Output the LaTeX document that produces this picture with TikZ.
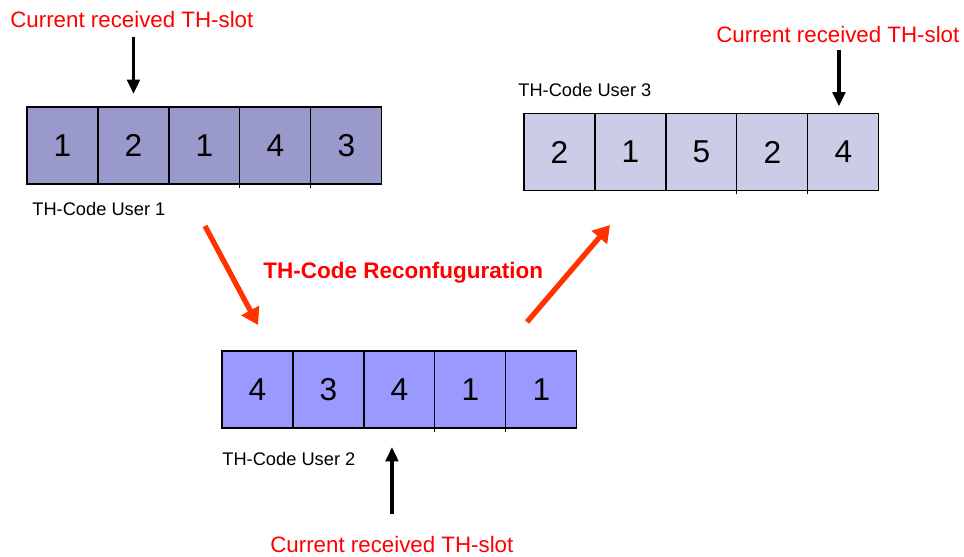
\documentclass[tikz,border=0pt]{standalone}
\usepackage{fontspec}
\setmainfont{Liberation Sans}
\usetikzlibrary{positioning,arrows.meta}
\definecolor{slotone}{HTML}{9999CC}
\definecolor{slottwo}{HTML}{9999FF}
\definecolor{slotthree}{HTML}{CCCCE6}
\definecolor{labelred}{HTML}{FF0000}
\definecolor{reconfred}{HTML}{FF3300}
\begin{document}
\begin{tikzpicture}[x=0.02cm,y=-0.02cm,
    slot/.style={draw,line width=0.6pt,minimum width=1.42cm,minimum height=1.54cm,
        inner sep=0pt,outer sep=0pt,font=\fontsize{18}{18}\selectfont},
    slotlabel/.style={anchor=base west,inner sep=0pt,text=labelred,font=\fontsize{12.7}{13}\selectfont},
    codename/.style={anchor=base west,inner sep=0pt,font=\fontsize{10.4}{11}\selectfont},
    ptr/.style={-{Triangle[length=2.9mm,width=2.5mm]},line width=2.2pt},
    reconfarrow/.style={-{Triangle[length=3.3mm,width=3.9mm]},line width=3pt,draw=reconfred}]
                \useasboundingbox (0,0) rectangle (964,557);
                \node[slot,fill=slotone] (a1) at (62.5,145.5) {1};
                \node[slot,fill=slotone,right=0pt of a1] (a2) {2};
                \node[slot,fill=slotone,right=0pt of a2] (a3) {1};
                \node[slot,fill=slotone,right=0pt of a3] (a4) {4};
                \node[slot,fill=slotone,right=0pt of a4] (a5) {3};
                \node[slot,fill=slottwo] (b1) at (257.5,389.5) {4};
                \node[slot,fill=slottwo,right=0pt of b1] (b2) {3};
                \node[slot,fill=slottwo,right=0pt of b2] (b3) {4};
                \node[slot,fill=slottwo,right=0pt of b3] (b4) {1};
                \node[slot,fill=slottwo,right=0pt of b4] (b5) {1};
                \node[slot,fill=slotthree] (c1) at (559.5,152) {2};
                \node[slot,fill=slotthree,right=0pt of c1] (c2) {1};
                \node[slot,fill=slotthree,right=0pt of c2] (c3) {5};
                \node[slot,fill=slotthree,right=0pt of c3] (c4) {2};
                \node[slot,fill=slotthree,right=0pt of c4] (c5) {4};
                \draw[line width=0.6pt] (a3.south east) -- ++(0,4);
                \draw[line width=0.6pt] (a4.south east) -- ++(0,4);
                \draw[line width=0.6pt] (b3.south east) -- ++(0,4);
                \draw[line width=0.6pt] (b4.south east) -- ++(0,4);
                \draw[line width=0.6pt] (c3.south east) -- ++(0,4);
                \draw[line width=0.6pt] (c4.south east) -- ++(0,4);
                \node[slotlabel] (cur1) at (10,28) {Current received TH-slot};
                \node[slotlabel] (cur3) at (716,43) {Current received TH-slot};
                \node[slotlabel] (cur2) at (270,552) {Current received TH-slot};
                \node[codename] (name1) at (32,216) {TH-Code User 1};
                \node[codename] (name3) at (518,97) {TH-Code User 3};
                \node[codename] (name2) at (222,465) {TH-Code User 2};
                \node[anchor=base west,inner sep=0pt,text=labelred,
                    font=\bfseries\fontsize{12.8}{13}\selectfont] (reconf) at (263,279) {TH-Code Reconfuguration};
                \draw[ptr,shorten <=1.6mm,shorten >=2.6mm] (cur1.south -| a2) -- (a2.north);
                \draw[ptr,shorten <=1.2mm,shorten >=1.4mm] ([xshift=-0.9mm]cur3.south -| c5) -- ([xshift=-0.9mm]c5.north);
                \draw[ptr,shorten <=4.2mm,shorten >=3.8mm] ([xshift=-1.5mm]cur2.north -| b3) -- ([xshift=-1.5mm]b3.south);
                \coordinate (down0) at (205,226);
                \coordinate (down1) at (258,325);
                \coordinate (up0) at (527,322);
                \coordinate (up1) at (610,225);
                \draw[reconfarrow] (down0) -- (down1);
                \draw[reconfarrow] (up0) -- (up1);
            \end{tikzpicture}
\end{document}
